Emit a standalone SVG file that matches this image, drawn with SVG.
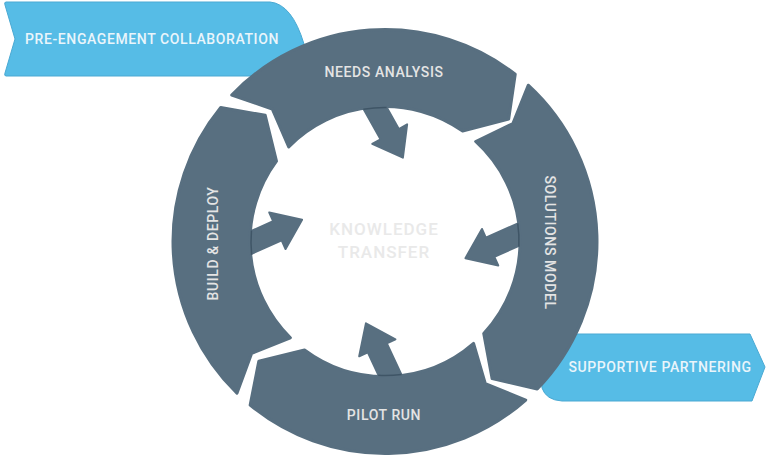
<svg xmlns="http://www.w3.org/2000/svg" width="768" height="469" viewBox="0 0 768 469">
<style>
.seg{fill:#586f80;stroke:#586f80;stroke-width:3;stroke-linejoin:round}
.arrow{fill:#586f80;stroke:#586f80;stroke-width:2;stroke-linejoin:round}
.edge{fill:none;stroke:#3f5566;stroke-width:1.5}
.ban{fill:#56bce6;stroke:#4aa9d3;stroke-width:1;stroke-linejoin:round}
.lbl{font-family:Roboto,"Liberation Sans",sans-serif;font-weight:500;font-size:14px;fill:#e4e4e4;letter-spacing:0.6px}
.banlbl{fill:#eaf5fb}
.center{font-family:Roboto,"Liberation Sans",sans-serif;font-weight:500;font-size:17px;fill:#e9e9e9;letter-spacing:1px}
</style>
<defs>
<path id="arr" d="M-15,-10.5 L30,-10.5 L30,-20 L57,0 L30,20 L30,10.5 L-15,10.5 Z"/>
</defs>
<rect width="768" height="469" fill="#ffffff"/>
<g id="banner-pre-engagement">
<path class="ban" d="M6,2 L270,2 Q292,4 304,44 L280,76 L6,76 Q4,76 5,73 L15,39 L5,5 Q4,2 6,2 Z"/>
<text class="lbl banlbl" x="152" y="44" text-anchor="middle">PRE-ENGAGEMENT COLLABORATION</text>
</g>
<g id="banner-supportive">
<path class="ban" d="M560,334 L750,334 L765,367 L752,401 L562,401 Q546,400 542,388 L540,340 Z"/>
<text class="lbl banlbl" x="660" y="372" text-anchor="middle">SUPPORTIVE PARTNERING</text>
</g>
<g id="connectors">
<use href="#arr" class="arrow" transform="translate(375,108) rotate(60.7)"/>
<use href="#arr" class="arrow" transform="translate(517.5,235) rotate(156)"/>
<use href="#arr" class="arrow" transform="translate(390,375) rotate(245)"/>
<use href="#arr" class="arrow" transform="translate(250,243) rotate(336)"/>
</g>
<g id="needs-analysis">
<path class="seg" d="M231.73,95.03 A212,212 0 0 1 515.23,74.22 L508.68,119.11 L462.63,131.05 A135,135 0 0 0 288.71,146.88 L272.23,108.99 Z"/>
<path class="edge" d="M363.35,109.26 A134,134 0 0 1 386.64,107.51"/>
<text class="lbl" x="384" y="77" text-anchor="middle">NEEDS ANALYSIS</text>
</g>
<g id="solutions-model">
<path class="seg" d="M528.23,85.20 A212,212 0 0 1 537.24,389.03 L492.12,378.61 L483.73,333.57 A135,135 0 0 0 475.68,141.49 L512.87,123.50 Z"/>
<path class="edge" d="M517.76,223.31 A134,134 0 0 1 518.9,246.64"/>
<text class="lbl" transform="translate(550,242.5) rotate(90)" y="5" text-anchor="middle">SOLUTIONS MODEL</text>
</g>
<g id="pilot-run">
<path class="seg" d="M525.75,400.03 A212,212 0 0 1 250.15,405.08 L258.79,361.27 L304.51,349.88 A135,135 0 0 0 473.57,343.39 L485.34,383.65 Z"/>
<path class="edge" d="M401.56,374.47 A134,134 0 0 1 378.22,375.33"/>
<text class="lbl" x="384" y="420" text-anchor="middle">PILOT RUN</text>
</g>
<g id="build-deploy">
<path class="seg" d="M236.96,393.25 A212,212 0 0 1 220.71,107.51 L265.23,115.29 L276.48,161.20 A135,135 0 0 0 290.38,337.79 L251.71,353.35 Z"/>
<path class="edge" d="M251.66,254.81 A134,134 0 0 1 251.45,230.52"/>
<text class="lbl" transform="translate(213,243.5) rotate(-90)" y="5" text-anchor="middle">BUILD &amp; DEPLOY</text>
</g>
<g id="knowledge-transfer">
<text class="center" x="384" y="235" text-anchor="middle">KNOWLEDGE</text>
<text class="center" x="384" y="257.5" text-anchor="middle">TRANSFER</text>
</g>
</svg>
